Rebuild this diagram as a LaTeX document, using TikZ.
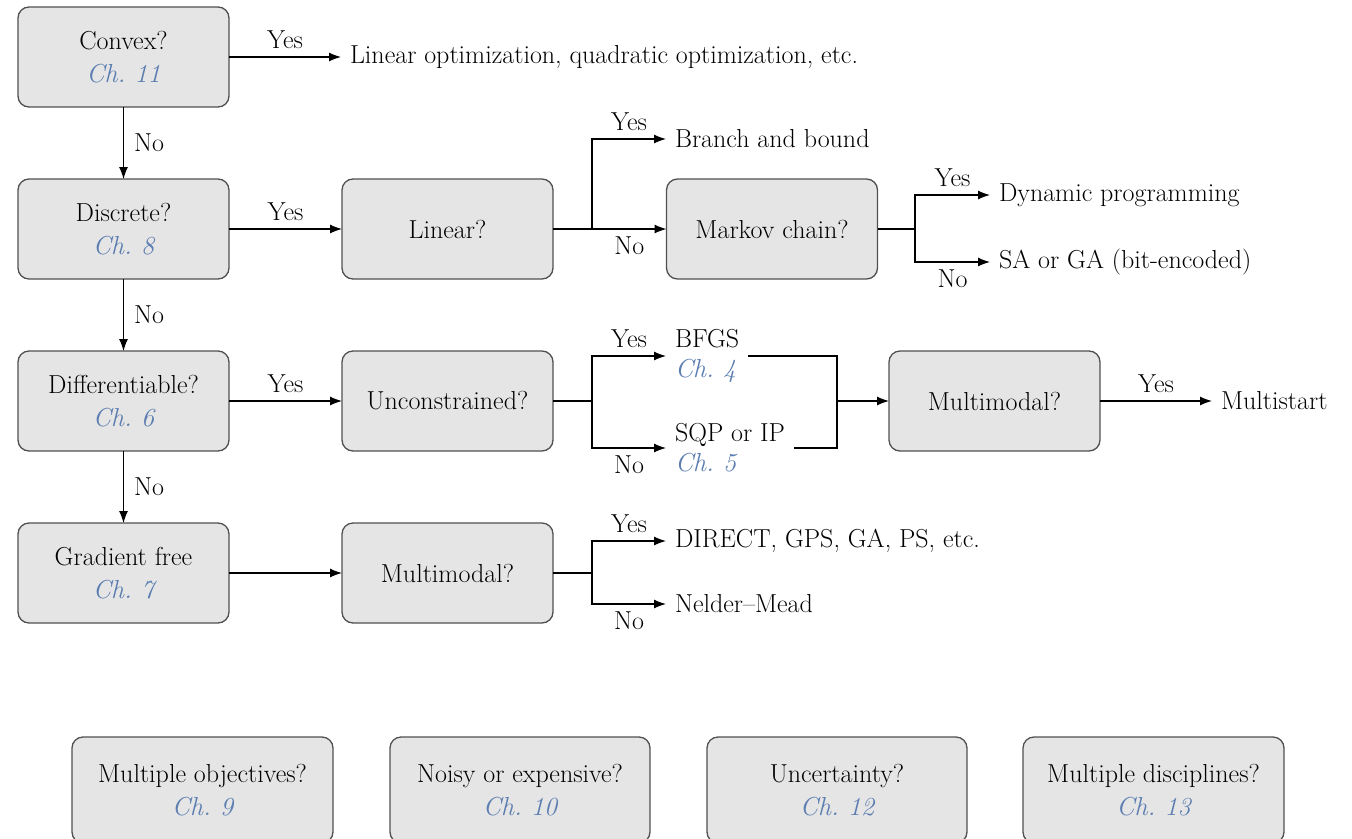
\documentclass[tikz,border=0pt]{standalone}
\usetikzlibrary{arrows.meta}
\definecolor{boxfill}{HTML}{E5E5E5}
\definecolor{boxdraw}{HTML}{505050}
\definecolor{chblue}{HTML}{5B7DB0}
\newcommand{\chap}[1]{{\color{chblue}\itshape Ch.~#1}}
\tikzset{
  qbox/.style={draw=boxdraw, fill=boxfill, line width=1.3pt, rounded corners=11pt,
    minimum width=211pt, minimum height=100pt, align=center, inner sep=0pt, outer sep=0pt,
    font=\fontsize{26}{33}\selectfont},
  outtext/.style={anchor=west, align=left, inner xsep=9pt, inner ysep=0pt, outer sep=0pt,
    font=\fontsize{26}{30}\selectfont},
  arr/.style={line width=1.2pt, -{Latex[length=12pt,width=9pt]}},
  ln/.style={line width=1.2pt},
  lab/.style={font=\fontsize{26}{28}\selectfont, inner sep=0pt},
  labA/.style={lab, above=8pt},
  labB/.style={lab, below=7pt},
  labR/.style={lab, right=10pt}
}
\begin{document}
\begin{tikzpicture}[x=1pt,y=-1pt]
\useasboundingbox (0,0) rectangle (1352,838);
% left column
\node[qbox] (convex) at (123.5,57) {Convex?\\\chap{11}};
\node[qbox] (discrete) at (123.5,229) {Discrete?\\\chap{8}};
\node[qbox] (diff) at (123.5,401) {Differentiable?\\\chap{6}};
\node[qbox] (gfree) at (123.5,573) {Gradient free\\\chap{7}};
% second column
\node[qbox] (linear) at (447.5,229) {Linear?};
\node[qbox] (uncon) at (447.5,401) {Unconstrained?};
\node[qbox] (mmA) at (447.5,573) {Multimodal?};
\node[qbox] (markov) at (772,229) {Markov chain?};
\node[qbox] (mmB) at (994.5,401) {Multimodal?};
% bottom row (cut by the lower edge)
\node[qbox, minimum width=261pt, minimum height=106pt] (mobj) at (202.5,790) {Multiple objectives?\\\chap{9}};
\node[qbox, minimum width=260pt, minimum height=106pt] (noisy) at (520,790) {Noisy or expensive?\\\chap{10}};
\node[qbox, minimum width=260pt, minimum height=106pt] (uncert) at (837,790) {Uncertainty?\\\chap{12}};
\node[qbox, minimum width=261pt, minimum height=106pt] (mdisc) at (1153.5,790) {Multiple disciplines?\\\chap{13}};
% outcomes
\node[outtext] (linopt) at (341,57) {Linear optimization, quadratic optimization, etc.};
\node[outtext] (bb) at (666,139) {Branch and bound};
\node[outtext] (dp) at (990,195) {Dynamic programming};
\node[outtext] (sa) at (990,262) {SA or GA (bit-encoded)};
\node[outtext] (bfgs) at (666,356) {BFGS\\\chap{4}};
\node[outtext] (sqp) at (666,448) {SQP or IP\\\chap{5}};
\node[outtext] (mstart) at (1212,401) {Multistart};
\node[outtext] (direct) at (666,541) {DIRECT, GPS, GA, PS, etc.};
\node[outtext] (nm) at (666,604) {Nelder--Mead};
% branch points
\coordinate (jL) at (592,229);
\coordinate (jM) at (915,229);
\coordinate (jU) at (592,401);
\coordinate (jG) at (592,573);
\coordinate (merge) at (837,401);
% connectors
\draw[arr] (convex.east) -- (linopt.west) node[midway, labA] {Yes};
\draw[arr] (convex.south) -- (discrete.north) node[midway, labR] {No};
\draw[arr] (discrete.south) -- (diff.north) node[midway, labR] {No};
\draw[arr] (diff.south) -- (gfree.north) node[midway, labR] {No};
\draw[arr] (discrete.east) -- (linear.west) node[midway, labA] {Yes};
\draw[arr] (diff.east) -- (uncon.west) node[midway, labA] {Yes};
\draw[arr] (gfree.east) -- (mmA.west);
% linear branch
\draw[ln] (linear.east) -- (jL);
\draw[arr] (jL) |- (bb.west) node[pos=0.75, labA] {Yes};
\draw[arr] (jL) -- (markov.west) node[midway, labB] {No};
% markov branch
\draw[ln] (markov.east) -- (jM);
\draw[arr] (jM) |- (dp.west) node[pos=0.75, labA] {Yes};
\draw[arr] (jM) |- (sa.west) node[pos=0.75, labB] {No};
% unconstrained branch
\draw[ln] (uncon.east) -- (jU);
\draw[arr] (jU) |- (bfgs.west) node[pos=0.75, labA] {Yes};
\draw[arr] (jU) |- (sqp.west) node[pos=0.75, labB] {No};
\draw[ln] (bfgs.east) -| (merge);
\draw[ln] (sqp.east) -| (merge);
\draw[arr] (merge) -- (mmB.west);
\draw[arr] (mmB.east) -- (mstart.west) node[midway, labA] {Yes};
% multimodal branch
\draw[ln] (mmA.east) -- (jG);
\draw[arr] (jG) |- (direct.west) node[pos=0.75, labA] {Yes};
\draw[arr] (jG) |- (nm.west) node[pos=0.75, labB] {No};
\end{tikzpicture}
\end{document}
